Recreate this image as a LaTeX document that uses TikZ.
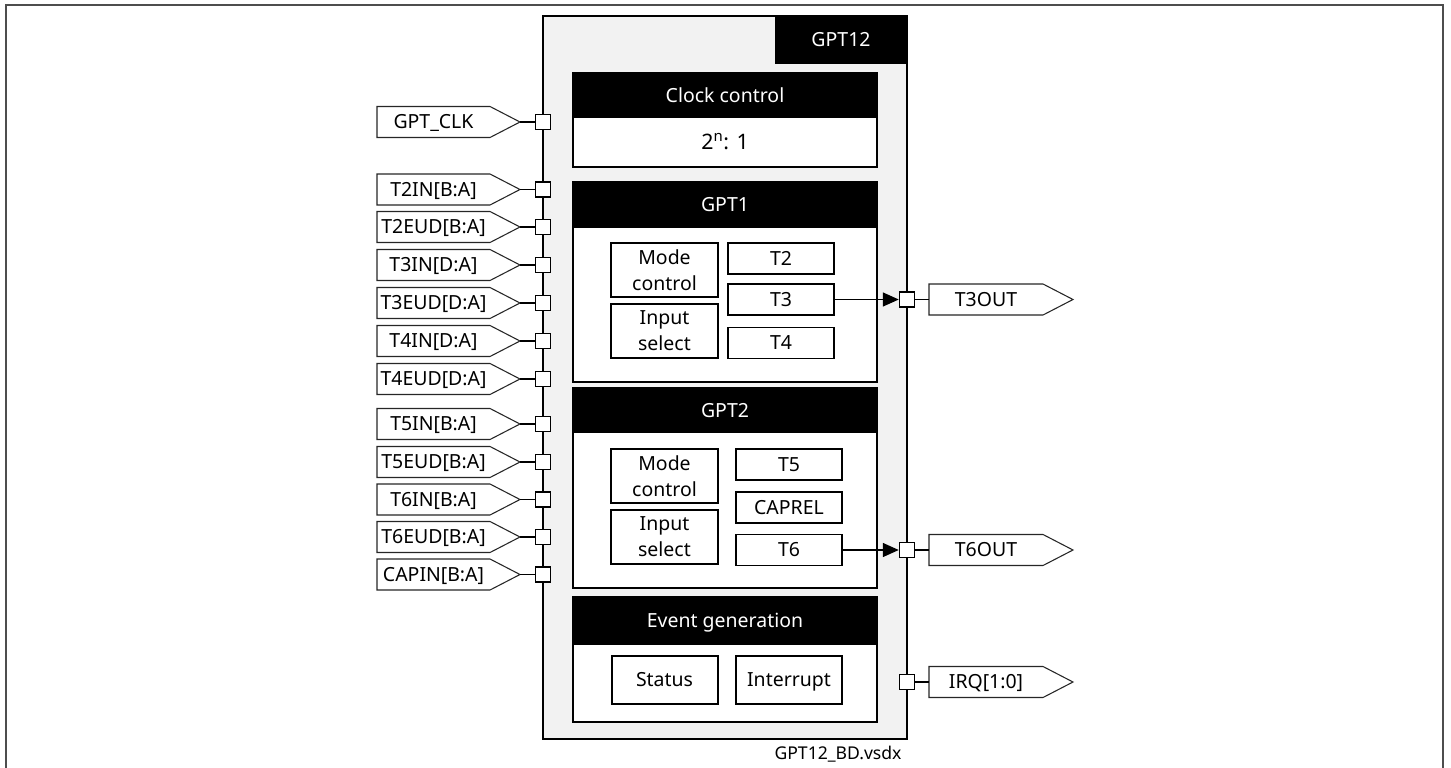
\documentclass[tikz,border=0pt]{standalone}
\usepackage{fontspec}
\setmainfont{Noto Sans}
\usetikzlibrary{arrows.meta}

\definecolor{unitfill}{HTML}{F2F2F2}
\definecolor{framegray}{HTML}{4D4D4D}

% input pin: pentagon label, tip coordinate, port square on the unit border, wire
\newcommand\leftpin[3]{%
  \draw[pinshape] (377,#2-15.5) -- (490,#2-15.5) -- (520,#2) -- (490,#2+15.5) -- (377,#2+15.5) -- cycle;
  \node[lbl] (#1) at (433.5,#2) {#3};
  \coordinate (#1-tip) at (520,#2);
  \node[port] (#1-p) at (543,#2) {};
  \draw[wire] (#1-tip) -- (#1-p);
}
% output pin: port square on the unit border, wire, pentagon label
\newcommand\rightpin[3]{%
  \node[port] (#1-p) at (907,#2) {};
  \draw[pinshape] (929,#2-15.5) -- (1043,#2-15.5) -- (1073,#2) -- (1043,#2+15.5) -- (929,#2+15.5) -- cycle;
  \node[lbl] (#1) at (986,#2) {#3};
  \coordinate (#1-left) at (929,#2);
  \draw[wire] (#1-p) -- (#1-left);
}

\begin{document}
\begin{tikzpicture}[x=0.75pt,y=-0.75pt,
  lbl/.style={font=\fontsize{14.6pt}{19.3pt}\selectfont, inner sep=0pt,
              text height=12pt, text depth=1.6pt},
  hdrtxt/.style={lbl, text=white},
  frameline/.style={draw=framegray, line width=1.4pt},
  unit/.style={draw=black, line width=1.5pt, fill=unitfill},
  blk/.style={draw=black, line width=1.5pt, fill=white},
  sub/.style={draw=black, line width=1.1pt, fill=white, inner sep=0pt, align=center,
              font=\fontsize{14.6pt}{19.3pt}\selectfont},
  tbox/.style={sub, minimum width=79.5pt, minimum height=23.25pt,
               text height=12pt, text depth=1.6pt},
  ctlbox/.style={sub, minimum width=80.25pt, minimum height=40.5pt},
  evbox/.style={sub, line width=1.5pt, minimum width=79.5pt, minimum height=36pt,
                text height=12pt, text depth=1.6pt},
  port/.style={draw=black, fill=white, line width=1.1pt, minimum size=11.25pt, inner sep=0pt},
  pinshape/.style={draw=black!85, line width=0.8pt, fill=white},
  wire/.style={draw=black, line width=1.1pt},
  sig/.style={wire, -{Triangle[length=12pt,width=10.5pt]}}]

\useasboundingbox (0,0) rectangle (1451,767);

% outer drawing frame (bottom edge lies below the page)
\draw[frameline] (6,790) -- (6,5) -- (1443,5) -- (1443,790);

% GPT12 unit
\draw[unit] (543,16) rectangle (907,739);
\fill[black] (775,16) rectangle (907,64);
\node[hdrtxt] (title) at (841,40) {GPT12};

% clock control
\draw[blk] (573,73) rectangle (877,167);
\fill[black] (573,73) rectangle (877,118);
\node[hdrtxt] (clkhdr) at (725,95.5) {Clock control};
\node[lbl, font=\fontsize{16pt}{19pt}\selectfont, text height=13pt] (prescaler) at (725,142) {2\textsuperscript{n}: 1};

% GPT1 block
\draw[blk] (573,182) rectangle (877,382);
\fill[black] (573,182) rectangle (877,228);
\node[hdrtxt] (gpt1hdr) at (725,205) {GPT1};
\node[ctlbox] (mode1) at (664.5,270) {Mode\\control};
\node[ctlbox] (insel1) at (664.5,331) {Input\\select};
\node[tbox] (t2) at (781,258.5) {T2};
\node[tbox] (t3) at (781,299.5) {T3};
\node[tbox] (t4) at (781,343) {T4};

% GPT2 block
\draw[blk] (573,388) rectangle (877,588);
\fill[black] (573,388) rectangle (877,433);
\node[hdrtxt] (gpt2hdr) at (725,410.5) {GPT2};
\node[ctlbox] (mode2) at (664.5,476) {Mode\\control};
\node[ctlbox] (insel2) at (664.5,537) {Input\\select};
\node[tbox] (t5) at (789,464.5) {T5};
\node[tbox] (caprel) at (789,507.5) {CAPREL};
\node[tbox] (t6) at (789,550) {T6};

% event generation
\draw[blk] (573,597) rectangle (877,722);
\fill[black] (573,597) rectangle (877,645);
\node[hdrtxt] (evhdr) at (725,621) {Event generation};
\node[evbox] (status) at (664.5,680) {Status};
\node[evbox] (irqgen) at (789,680) {Interrupt};

% input pins
\leftpin{clk}{122}{GPT\_CLK}
\leftpin{t2in}{189.5}{T2IN[B:A]}
\leftpin{t2eud}{227}{T2EUD[B:A]}
\leftpin{t3in}{265}{T3IN[D:A]}
\leftpin{t3eud}{303}{T3EUD[D:A]}
\leftpin{t4in}{341}{T4IN[D:A]}
\leftpin{t4eud}{379}{T4EUD[D:A]}
\leftpin{t5in}{424}{T5IN[B:A]}
\leftpin{t5eud}{462}{T5EUD[B:A]}
\leftpin{t6in}{499.5}{T6IN[B:A]}
\leftpin{t6eud}{537}{T6EUD[B:A]}
\leftpin{capin}{574.5}{CAPIN[B:A]}

% output pins
\rightpin{t3out}{299.5}{T3OUT}
\rightpin{t6out}{550}{T6OUT}
\rightpin{irq}{682}{IRQ[1:0]}

% timer outputs
\draw[sig] (t3.east) -- (t3out-p.west);
\draw[sig] (t6.east) -- (t6out-p.west);

% file name
\node[font=\fontsize{13.2pt}{16pt}\selectfont, inner sep=0pt] (fname) at (838,754) {GPT12\_BD.vsdx};

\end{tikzpicture}
\end{document}
